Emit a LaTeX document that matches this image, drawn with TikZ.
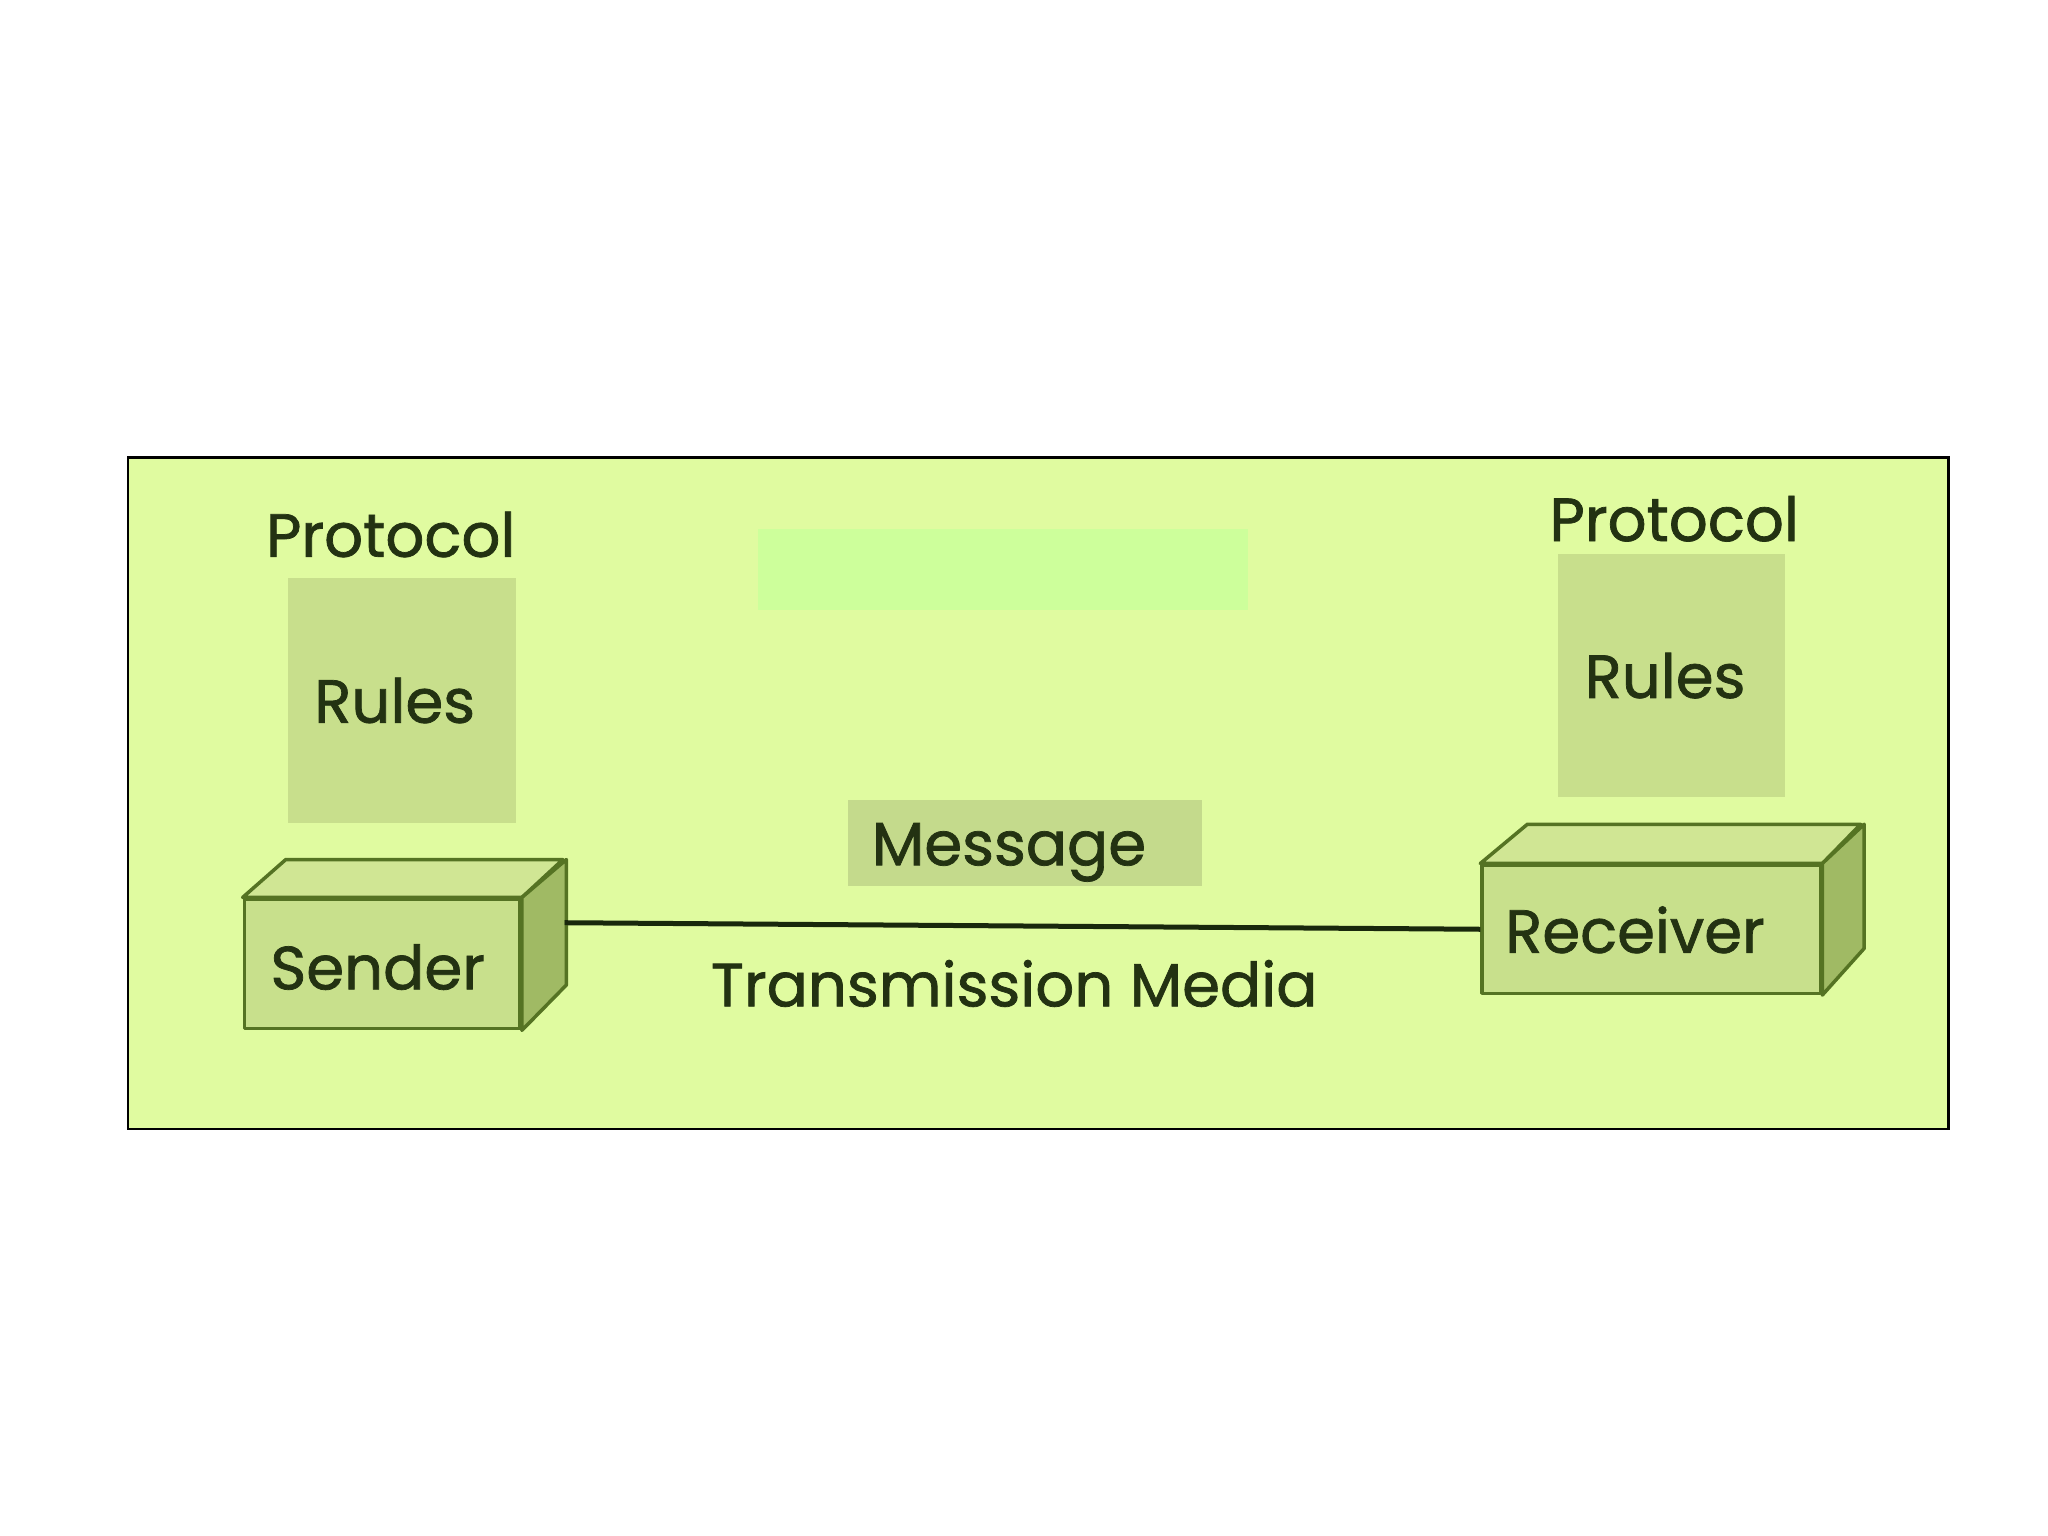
\documentclass[tikz,border=0pt]{standalone}
\usepackage{fontspec}
\setmainfont{Poppins}[UprightFeatures={FakeBold=1.2}]
\usetikzlibrary{fit}
\definecolor{bgc}{RGB}{224,251,160}
\definecolor{rulec}{RGB}{200,223,140}
\definecolor{msgc}{RGB}{196,218,140}
\definecolor{brightc}{RGB}{205,255,155}
\definecolor{frontc}{RGB}{200,224,140}
\definecolor{topc}{RGB}{208,230,148}
\definecolor{sidec}{RGB}{160,186,100}
\definecolor{edgec}{RGB}{85,115,35}
\definecolor{txtc}{RGB}{35,50,18}
\definecolor{linec}{RGB}{25,40,12}
\begin{document}
\begin{tikzpicture}[x=1.307pt,y=-1.307pt,
  txt/.style={font=\fontsize{61}{72}\selectfont, text=txtc, inner sep=0pt, anchor=base},
  flatbox/.style={inner sep=0pt, draw=none},
  face/.style={inner sep=0pt, draw=edgec, line width=3.5pt, line join=round},
  medline/.style={draw=linec, line width=5pt}]
\useasboundingbox[fill=white] (0,0) rectangle (1567,1175);
% frame
\node[fit={(98,350) (1491,864)}, inner sep=0pt, fill=bgc, draw=black, line width=2.5pt] (frame) {};
% covered area
\node[fit={(580,405) (955,467)}, flatbox, fill=brightc] (cover) {};
% left protocol
\node[txt] (lprot) at (299,426) {Protocol};
\node[fit={(220,442) (395,630)}, flatbox, fill=rulec] (lrules) {};
\node[txt] (lrulestxt) at (302,553) {Rules};
% right protocol
\node[txt] (rprot) at (1281,414) {Protocol};
\node[fit={(1192,424) (1366,610)}, flatbox, fill=rulec] (rrules) {};
\node[txt] (rrulestxt) at (1274,534) {Rules};
% message
\node[fit={(649,612) (920,678)}, flatbox, fill=msgc] (msg) {};
\node[txt] (msgtxt) at (772,662) {Message};
% sender box
\node[fit={(187,688) (398,787)}, face, fill=frontc] (send) {};
\filldraw[face, fill=topc] (send.north west) -- ++(33,-29) -- ++(212,0) -- (send.north east) -- cycle;
\filldraw[face, fill=sidec] (send.north east) -- ++(34,-29) -- ++(0,96) -- (send.south east) -- cycle;
\coordinate (sendR) at (432,706);
\node[txt] (sendtxt) at (289,757) {Sender};
% receiver box
\node[fit={(1134,662) (1393,760)}, face, fill=frontc] (recv) {};
\filldraw[face, fill=topc] (recv.north west) -- ++(36,-30) -- ++(255,0) -- (recv.north east) -- cycle;
\filldraw[face, fill=sidec] (recv.north east) -- ++(32,-30) -- ++(0,95) -- (recv.south east) -- cycle;
\node[txt] (recvtxt) at (1251,729) {Receiver};
% transmission line
\draw[medline] (sendR) -- (recv.west);
\node[txt] (media) at (776,770) {Transmission Media};
\end{tikzpicture}
\end{document}
